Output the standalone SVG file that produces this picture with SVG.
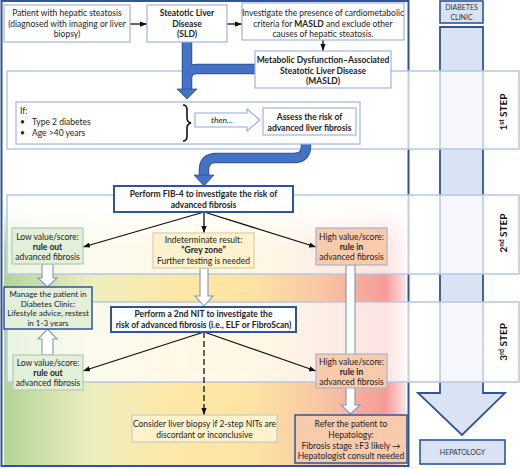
<svg xmlns="http://www.w3.org/2000/svg" width="520" height="469" viewBox="0 0 520 469">
<defs>
<style>
text{font-family:Lato,"Liberation Sans",sans-serif;font-size:8.5px;fill:#222;text-anchor:middle}
.b{font-weight:bold}
.s{font-size:8px}
.lb{fill:#fff;stroke:#9fb5dd;stroke-width:1.2}
.dk{stroke:#2f5597;stroke-width:2}
.band{fill:#fff;fill-opacity:0.72;stroke:#b4c7e7;stroke-width:1.5}
.green{fill:#e2f0d9;stroke:#b7c9b0;stroke-width:1.2}
.yel{fill:#fff2cc;stroke:#d9cfa8;stroke-width:1.2}
.peach{fill:#f8cbad;stroke:#a9b4c8;stroke-width:1.2}
.hollow{fill:#fff;stroke:#8497b0;stroke-width:1.1}
.ln{stroke:#111;stroke-width:1.3;fill:none;marker-end:url(#ah)}
.step{font-size:10px;font-weight:bold;fill:#111}
.rc{font-size:7px;fill:#333}
</style>
<marker id="ah" viewBox="0 0 8 6" refX="8" refY="3" markerWidth="7" markerHeight="5.5" markerUnits="userSpaceOnUse" orient="auto"><path d="M0,0 L8,3 L0,6 z" fill="#111"/></marker>
<linearGradient id="hg" x1="4" y1="0" x2="406" y2="0" gradientUnits="userSpaceOnUse">
<stop offset="0" stop-color="#b3d597"/>
<stop offset="0.22" stop-color="#eeeec0"/>
<stop offset="0.42" stop-color="#fde8a6"/>
<stop offset="0.62" stop-color="#fde3a2"/>
<stop offset="0.78" stop-color="#f9c8a4"/>
<stop offset="0.95" stop-color="#f59c98"/>
<stop offset="1" stop-color="#fde4e4"/>
</linearGradient>
<linearGradient id="vg" x1="0" y1="205" x2="0" y2="250" gradientUnits="userSpaceOnUse">
<stop offset="0" stop-color="#fff" stop-opacity="1"/>
<stop offset="1" stop-color="#fff" stop-opacity="0"/>
</linearGradient>
</defs>

<g id="background">
<rect x="4" y="205" width="402" height="261" fill="url(#hg)"/>
<rect x="4" y="205" width="402" height="46" fill="url(#vg)"/>
<rect x="1.5" y="1" width="407" height="465" fill="none" stroke="#2f5597" stroke-width="2"/>
</g>

<g id="diabetes-clinic">
<rect x="440" y="1" width="43" height="22" fill="#dae3f3" stroke="#2f5597" stroke-width="1.6"/>
<text class="rc" x="461.5" y="10">DIABETES</text>
<text class="rc" x="461.5" y="19.5">CLINIC</text>
</g>
<g id="pathway-arrow">
<polygon points="440,27 483,27 483,393 505,393 462,435 418,393 440,393" fill="#dae3f3" stroke="#2f5597" stroke-width="1.8"/>
</g>
<g id="hepatology">
<rect x="420" y="440" width="85" height="24" fill="#dae3f3" stroke="#2f5597" stroke-width="1.6"/>
<text class="rc" x="462.5" y="455">HEPATOLOGY</text>
</g>

<g id="steps">
<rect class="band" x="7" y="71" width="512" height="78"/>
<rect class="band" x="7" y="195" width="512" height="79"/>
<rect class="band" x="7" y="302" width="512" height="80"/>
<text class="step" transform="translate(507,112) rotate(-90)">1<tspan font-size="6.5" dy="-3.5">st</tspan><tspan dy="3.5"> STEP</tspan></text>
<text class="step" transform="translate(507,233) rotate(-90)">2<tspan font-size="6.5" dy="-3.5">nd</tspan><tspan dy="3.5"> STEP</tspan></text>
<text class="step" transform="translate(507,342) rotate(-90)">3<tspan font-size="6.5" dy="-3.5">rd</tspan><tspan dy="3.5"> STEP</tspan></text>
</g>

<g id="connectors">
<path d="M187,42 V90 M255,69 H197 Q187,69 187,79" fill="none" stroke="#2f5597" stroke-width="10.5"/>
<path d="M187,42 V90 M255,69 H197 Q187,69 187,79" fill="none" stroke="#4472c4" stroke-width="8.5"/>
<polygon points="177,89 197,89 187,99" fill="#4472c4" stroke="#2f5597" stroke-width="0.8"/>
<path d="M306,134 V146 Q306,158 294,158 H216 Q204,158 204,170 V176" fill="none" stroke="#2f5597" stroke-width="10.5"/>
<path d="M306,134 V146 Q306,158 294,158 H216 Q204,158 204,170 V176" fill="none" stroke="#4472c4" stroke-width="8.5"/>
<polygon points="194,175 214,175 204,186" fill="#4472c4" stroke="#2f5597" stroke-width="0.8"/>
<line class="ln" x1="130" y1="24" x2="147" y2="24"/>
<line class="ln" x1="227" y1="24" x2="242" y2="24"/>
<line class="ln" x1="323" y1="40" x2="323" y2="51"/>
<line class="ln" x1="204" y1="212" x2="83" y2="247"/>
<line class="ln" x1="204" y1="212" x2="204" y2="233"/>
<line class="ln" x1="204" y1="212" x2="316" y2="247"/>
<line class="ln" x1="204" y1="332" x2="83" y2="371"/>
<line class="ln" x1="204" y1="332" x2="316" y2="371"/>
<line class="ln" x1="204" y1="332" x2="204" y2="415" stroke-dasharray="6,3" stroke-width="1.8"/>
<polygon class="hollow" points="42,264 53,264 53,278 57,278 47.5,287 38,278 42,278"/>
<polygon class="hollow" points="42,355 53,355 53,339 57,339 47.5,329 38,339 42,339"/>
<polygon class="hollow" points="200,268 208,268 208,296 213,296 204,306 195,296 200,296"/>
<polygon class="hollow" points="346,265 355,265 355,405 360,405 350.5,414 341,405 346,405"/>
</g>

<g id="patient">
<rect class="lb" x="4" y="5" width="126" height="37"/>
<text x="67" y="16">Patient with hepatic steatosis</text>
<text x="67" y="27">(diagnosed with imaging or liver</text>
<text x="67" y="37">biopsy)</text>
</g>
<g id="sld">
<rect class="lb" x="147" y="5" width="80" height="37"/>
<text class="b" x="187" y="16">Steatotic Liver</text>
<text class="b" x="187" y="27">Disease</text>
<text class="b" x="187" y="37">(SLD)</text>
</g>
<g id="investigate">
<rect class="lb" x="242" y="3" width="162" height="37"/>
<text x="323" y="16">Investigate the presence of cardiometabolic</text>
<text x="323" y="26.5">criteria for <tspan class="b">MASLD</tspan> and exclude other</text>
<text x="323" y="37">causes of hepatic steatosis.</text>
</g>
<g id="masld">
<rect class="lb" x="255" y="51" width="136" height="37"/>
<text class="b" x="323" y="63">Metabolic Dysfunction–Associated</text>
<text class="b" x="323" y="73.5">Steatotic Liver Disease</text>
<text class="b" x="323" y="84">(MASLD)</text>
</g>
<g id="criteria">
<rect class="lb" x="16" y="102" width="344" height="42"/>
<text x="20" y="114" style="text-anchor:start">If:</text>
<text x="20" y="125" style="text-anchor:start">•</text>
<text x="32" y="125" style="text-anchor:start">Type 2 diabetes</text>
<text x="20" y="136" style="text-anchor:start">•</text>
<text x="32" y="136" style="text-anchor:start">Age &gt;40 years</text>
<path d="M183,105 Q187,105 187,110 V118 Q187,122 191,123 Q187,124 187,128 V136 Q187,141 183,141" fill="none" stroke="#111" stroke-width="1.6"/>
<polygon class="hollow" points="195,113 247,113 247,109 260,120 247,131 247,127 195,127" style="stroke:#8faadc"/>
<text x="222" y="123" font-style="italic" font-size="8">then...</text>
</g>
<g id="assess">
<rect class="lb" x="263" y="108" width="93" height="27"/>
<text class="b" x="309.5" y="120">Assess the risk of</text>
<text class="b" x="309.5" y="130.5">advanced liver fibrosis</text>
</g>
<g id="fib4">
<rect x="114" y="186" width="179" height="26" fill="#fff" class="dk"/>
<text class="b" x="203.5" y="197">Perform FIB-4 to investigate the risk of</text>
<text class="b" x="203.5" y="207.5">advanced fibrosis</text>
</g>
<g id="low2">
<rect class="green" x="12" y="228" width="71" height="36"/>
<text x="47.5" y="240">Low value/score:</text>
<text class="b" x="47.5" y="250">rule out</text>
<text x="47.5" y="260">advanced fibrosis</text>
</g>
<g id="indeterminate">
<rect class="yel" x="153" y="233" width="101" height="35"/>
<text x="203.5" y="242.5">Indeterminate result:</text>
<text class="b" x="203.5" y="253">“Grey zone”</text>
<text x="203.5" y="263.5">Further testing is needed</text>
</g>
<g id="high2">
<rect class="peach" x="316" y="228" width="71" height="37"/>
<text x="351.5" y="240">High value/score:</text>
<text class="b" x="351.5" y="250">rule in</text>
<text x="351.5" y="260">advanced fibrosis</text>
</g>
<g id="manage">
<rect x="4" y="287" width="88" height="42" fill="#e2f0d9" stroke="#2f5597" stroke-width="1.5"/>
<text class="s" x="48" y="297">Manage the patient in</text>
<text class="s" x="48" y="306.5">Diabetes Clinic:</text>
<text class="s" x="48" y="316">Lifestyle  advice, restest</text>
<text class="s" x="48" y="325.5">in 1-3 years</text>
</g>
<g id="nit2">
<rect x="111" y="307" width="185" height="25" fill="#fff" class="dk"/>
<text class="b" x="203.5" y="317">Perform a  2nd NIT to investigate the</text>
<text class="b" x="203.5" y="327.5">risk of advanced fibrosis  (i.e., ELF or FibroScan)</text>
</g>
<g id="low3">
<rect class="green" x="13" y="355" width="70" height="35"/>
<text x="48" y="365.5">Low value/score:</text>
<text class="b" x="48" y="375.5">rule out</text>
<text x="48" y="385.5">advanced fibrosis</text>
</g>
<g id="high3">
<rect class="peach" x="316" y="354" width="71" height="34"/>
<text x="351.5" y="365">High value/score:</text>
<text class="b" x="351.5" y="375">rule in</text>
<text x="351.5" y="385">advanced fibrosis</text>
</g>
<g id="biopsy">
<rect class="yel" x="132" y="415" width="145" height="27" style="stroke:#c9c9c9"/>
<text x="204.5" y="426.5">Consider liver biopsy if 2-step NITs are</text>
<text x="204.5" y="437.5">discordant or inconclusive</text>
</g>
<g id="refer">
<rect x="295" y="415" width="112" height="48" fill="#f8cbad" stroke="#2f5597" stroke-width="1.5"/>
<text x="351" y="427">Refer the patient to</text>
<text x="351" y="437.5">Hepatology:</text>
<text x="351" y="448.5">Fibrosis stage ≥F3 likely →</text>
<text x="351" y="459">Hepatologist consult needed</text>
</g>
</svg>
